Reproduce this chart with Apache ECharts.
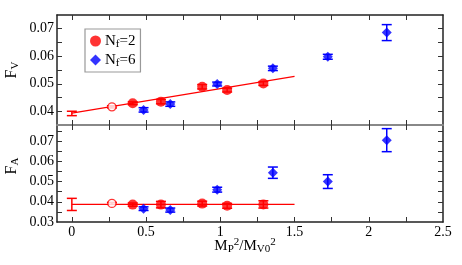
<!DOCTYPE html>
<html><head><meta charset="utf-8">
<script src="https://cdn.jsdelivr.net/npm/echarts@6/dist/echarts.min.js"></script>
<style>html,body{margin:0;padding:0;background:#fff}#c{width:462px;height:265px}</style>
</head><body><div id="c"></div>
<script>
// ---- data ----
var xTicks = [0, 0.5, 1, 1.5, 2, 2.5];
var xMinor = [0, 0.25, 0.5, 0.75, 1, 1.25, 1.5, 1.75, 2, 2.25];
var fvTicks = [0.04, 0.05, 0.06, 0.07];
var fvMinor = [0.04, 0.045, 0.05, 0.055, 0.06, 0.065, 0.07];
var faTicks = [0.03, 0.04, 0.05, 0.06, 0.07];
var faMinor = [0.035, 0.04, 0.045, 0.05, 0.055, 0.06, 0.065, 0.07, 0.075];

var xRed = [0.41, 0.60, 0.878, 1.046, 1.29];
var fvRed = [0.0429, 0.0435, 0.0489, 0.0477, 0.0501];
var fvRedErr = [0.0005, 0.0008, 0.0008, 0.0007, 0.0007];
var faRed = [0.0386, 0.0386, 0.0391, 0.0380, 0.0387];
var faRedErr = [0.0008, 0.0016, 0.0012, 0.0012, 0.0018];

var xBlue = [0.483, 0.663, 0.979, 1.354, 1.724, 2.121];
var fvBlue = [0.0405, 0.0426, 0.0499, 0.0556, 0.0598, 0.0686];
var fvBlueErr = [0.0008, 0.0008, 0.0007, 0.0008, 0.0009, 0.0029];
var faBlue = [0.0366, 0.0359, 0.0460, 0.0544, 0.0500, 0.0705];
var faBlueErr = [0.0009, 0.0010, 0.0012, 0.0028, 0.0034, 0.0057];

var xOpen = [0.27];
var fvOpen = [0.0416];
var fvOpenErr = [0.0004];
var faOpen = [0.0392];
var faOpenErr = [0.0005];

var xExtrap = [0];
var fvExtrap = [0.0392];
var fvExtrapErr = [0.0008];
var faExtrap = [0.0387];
var faExtrapErr = [0.0030];

var fitX = [0, 1.5];
var fvFit = [0.0393, 0.0527];
var faFit = [0.0387, 0.0387];

// ---- helpers ----
function pts(xs, ys) { return xs.map(function (x, i) { return [x, ys[i]]; }); }
function errData(xs, ys, es) { return xs.map(function (x, i) { return [x, ys[i] - es[i], ys[i] + es[i]]; }); }
function errSeries(xs, ys, es, color, gi) {
  return {
    type: 'custom', xAxisIndex: gi * 2, yAxisIndex: gi * 2, z: 2, silent: true,
    data: errData(xs, ys, es),
    renderItem: function (params, api) {
      var lo = api.coord([api.value(0), api.value(1)]);
      var hi = api.coord([api.value(0), api.value(2)]);
      var w = 5;
      var st = { stroke: color, lineWidth: 1.5, fill: null };
      return { type: 'group', children: [
        { type: 'line', shape: { x1: lo[0], y1: lo[1], x2: hi[0], y2: hi[1] }, style: st },
        { type: 'line', shape: { x1: lo[0] - w, y1: lo[1], x2: lo[0] + w, y2: lo[1] }, style: st },
        { type: 'line', shape: { x1: hi[0] - w, y1: hi[1], x2: hi[0] + w, y2: hi[1] }, style: st }
      ]};
    }
  };
}
var FONT = 'Liberation Serif';
var RED = '#ff0000', BLUE = '#0000ff';

function xAx(gi, pos, labels, lineColor, lineWidth) {
  return {
    type: 'value', gridIndex: gi, position: pos, min: -0.1, max: 2.5,
    axisLine: { show: true, onZero: false, lineStyle: { color: lineColor, width: lineWidth } },
    axisTick: { show: true, inside: true, length: 5, customValues: xMinor, lineStyle: { color: '#333', width: 1 } },
    axisLabel: { show: labels, customValues: xTicks, margin: 3, fontFamily: FONT, fontSize: 14, color: '#000',
      formatter: function (v) { return String(v); } },
    splitLine: { show: false }
  };
}
function yAx(gi, pos, min, max, ticks, minor, labels) {
  return {
    type: 'value', gridIndex: gi, position: pos, min: min, max: max,
    axisLine: { show: true, onZero: false, lineStyle: { color: '#222', width: 1.5 } },
    axisTick: { show: true, inside: true, length: 5, customValues: minor, lineStyle: { color: '#333', width: 1 } },
    axisLabel: { show: labels, customValues: ticks, margin: 3, fontFamily: FONT, fontSize: 14, color: '#000',
      formatter: function (v) { return v.toFixed(2); } },
    splitLine: { show: false }
  };
}

var richBase = {
  n: { fontFamily: FONT, fontSize: 15, color: '#000', lineHeight: 18 },
  s: { fontFamily: FONT, fontSize: 11, color: '#000', lineHeight: 12, verticalAlign: 'bottom', padding: [6, 0, 0, 0] },
  p: { fontFamily: FONT, fontSize: 11, color: '#000', lineHeight: 12, verticalAlign: 'top', padding: [0, 0, 8, 0] }
};
var richTitle = {
  n: { fontFamily: FONT, fontSize: 16, color: '#000', lineHeight: 18 },
  s: { fontFamily: FONT, fontSize: 11, color: '#000', lineHeight: 12, verticalAlign: 'bottom', padding: [6, 0, 0, 0] },
  p: { fontFamily: FONT, fontSize: 11, color: '#000', lineHeight: 12, verticalAlign: 'top', padding: [0, 0, 8, 0] }
};

var option = {
  animation: false,
  backgroundColor: '#fff',
  grid: [
    { left: 57, right: 19, top: 15, height: 110 },
    { left: 57, right: 19, top: 125, height: 97 }
  ],
  xAxis: [
    xAx(0, 'bottom', false, '#888', 2),
    xAx(0, 'top', false, '#222', 1.5),
    xAx(1, 'bottom', true, '#222', 1.5),
    xAx(1, 'top', false, '#888', 1)
  ],
  yAxis: [
    yAx(0, 'left', 0.035, 0.075, fvTicks, fvMinor, true),
    yAx(0, 'right', 0.035, 0.075, fvTicks, fvMinor, false),
    yAx(1, 'left', 0.03, 0.078, faTicks, faMinor, true),
    yAx(1, 'right', 0.03, 0.078, faTicks, faMinor, false)
  ],
  legend: {
    orient: 'vertical', left: 85, top: 29, padding: [4, 5, 3, 5], itemGap: 2,
    borderColor: '#999', borderWidth: 1.2, itemWidth: 11, itemHeight: 11,
    data: [{ name: 'Nf=2', icon: 'circle' }, { name: 'Nf=6', icon: 'diamond' }],
    formatter: function (n) { return '{n|N}{s|f}{n|=' + n.slice(3) + '}'; },
    textStyle: { rich: richBase, padding: [0, 0, 0, -1] }
  },
  series: [
    { type: 'line', name: 'fitV', xAxisIndex: 0, yAxisIndex: 0, data: pts(fitX, fvFit), symbol: 'none',
      lineStyle: { color: RED, width: 1.2 }, z: 1, silent: true },
    { type: 'line', name: 'fitA', xAxisIndex: 2, yAxisIndex: 2, data: pts(fitX, faFit), symbol: 'none',
      lineStyle: { color: RED, width: 1.2 }, z: 1, silent: true },
    errSeries(xExtrap, fvExtrap, fvExtrapErr, RED, 0),
    errSeries(xExtrap, faExtrap, faExtrapErr, RED, 1),
    errSeries(xOpen, fvOpen, fvOpenErr, RED, 0),
    errSeries(xOpen, faOpen, faOpenErr, RED, 1),
    errSeries(xRed, fvRed, fvRedErr, RED, 0),
    errSeries(xRed, faRed, faRedErr, RED, 1),
    errSeries(xBlue, fvBlue, fvBlueErr, BLUE, 0),
    errSeries(xBlue, faBlue, faBlueErr, BLUE, 1),
    { type: 'scatter', name: 'openV', xAxisIndex: 0, yAxisIndex: 0, data: pts(xOpen, fvOpen), symbol: 'circle', symbolSize: 8,
      itemStyle: { color: '#fff', borderColor: RED, borderWidth: 1.3 }, z: 3 },
    { type: 'scatter', name: 'openA', xAxisIndex: 2, yAxisIndex: 2, data: pts(xOpen, faOpen), symbol: 'circle', symbolSize: 8,
      itemStyle: { color: '#fff', borderColor: RED, borderWidth: 1.3 }, z: 3 },
    { type: 'scatter', name: 'Nf=2', xAxisIndex: 0, yAxisIndex: 0, data: pts(xRed, fvRed), symbol: 'circle', symbolSize: 10,
      itemStyle: { color: RED }, z: 3 },
    { type: 'scatter', name: 'Nf=2', xAxisIndex: 2, yAxisIndex: 2, data: pts(xRed, faRed), symbol: 'circle', symbolSize: 10,
      itemStyle: { color: RED }, z: 3 },
    { type: 'scatter', name: 'Nf=6', xAxisIndex: 0, yAxisIndex: 0, data: pts(xBlue, fvBlue), symbol: 'diamond', symbolSize: 10,
      itemStyle: { color: BLUE }, z: 3 },
    { type: 'scatter', name: 'Nf=6', xAxisIndex: 2, yAxisIndex: 2, data: pts(xBlue, faBlue), symbol: 'diamond', symbolSize: 10,
      itemStyle: { color: BLUE }, z: 3 }
  ],
  graphic: [
    { type: 'text', x: 12, y: 70, rotation: Math.PI / 2, style: { text: '{n|F}{s|V}', rich: richTitle, align: 'center', verticalAlign: 'middle' } },
    { type: 'text', x: 12, y: 166, rotation: Math.PI / 2, style: { text: '{n|F}{s|A}', rich: richTitle, align: 'center', verticalAlign: 'middle' } },
    { type: 'text', x: 245, y: 246, style: { text: '{n|M}{s|P}{p|2}{n|/M}{s|V0}{p|2}', rich: richBase, align: 'center', verticalAlign: 'middle' } }
  ]
};
var chart = echarts.init(document.getElementById('c'), null, { renderer: 'canvas' });
chart.setOption(option);
</script></body></html>
